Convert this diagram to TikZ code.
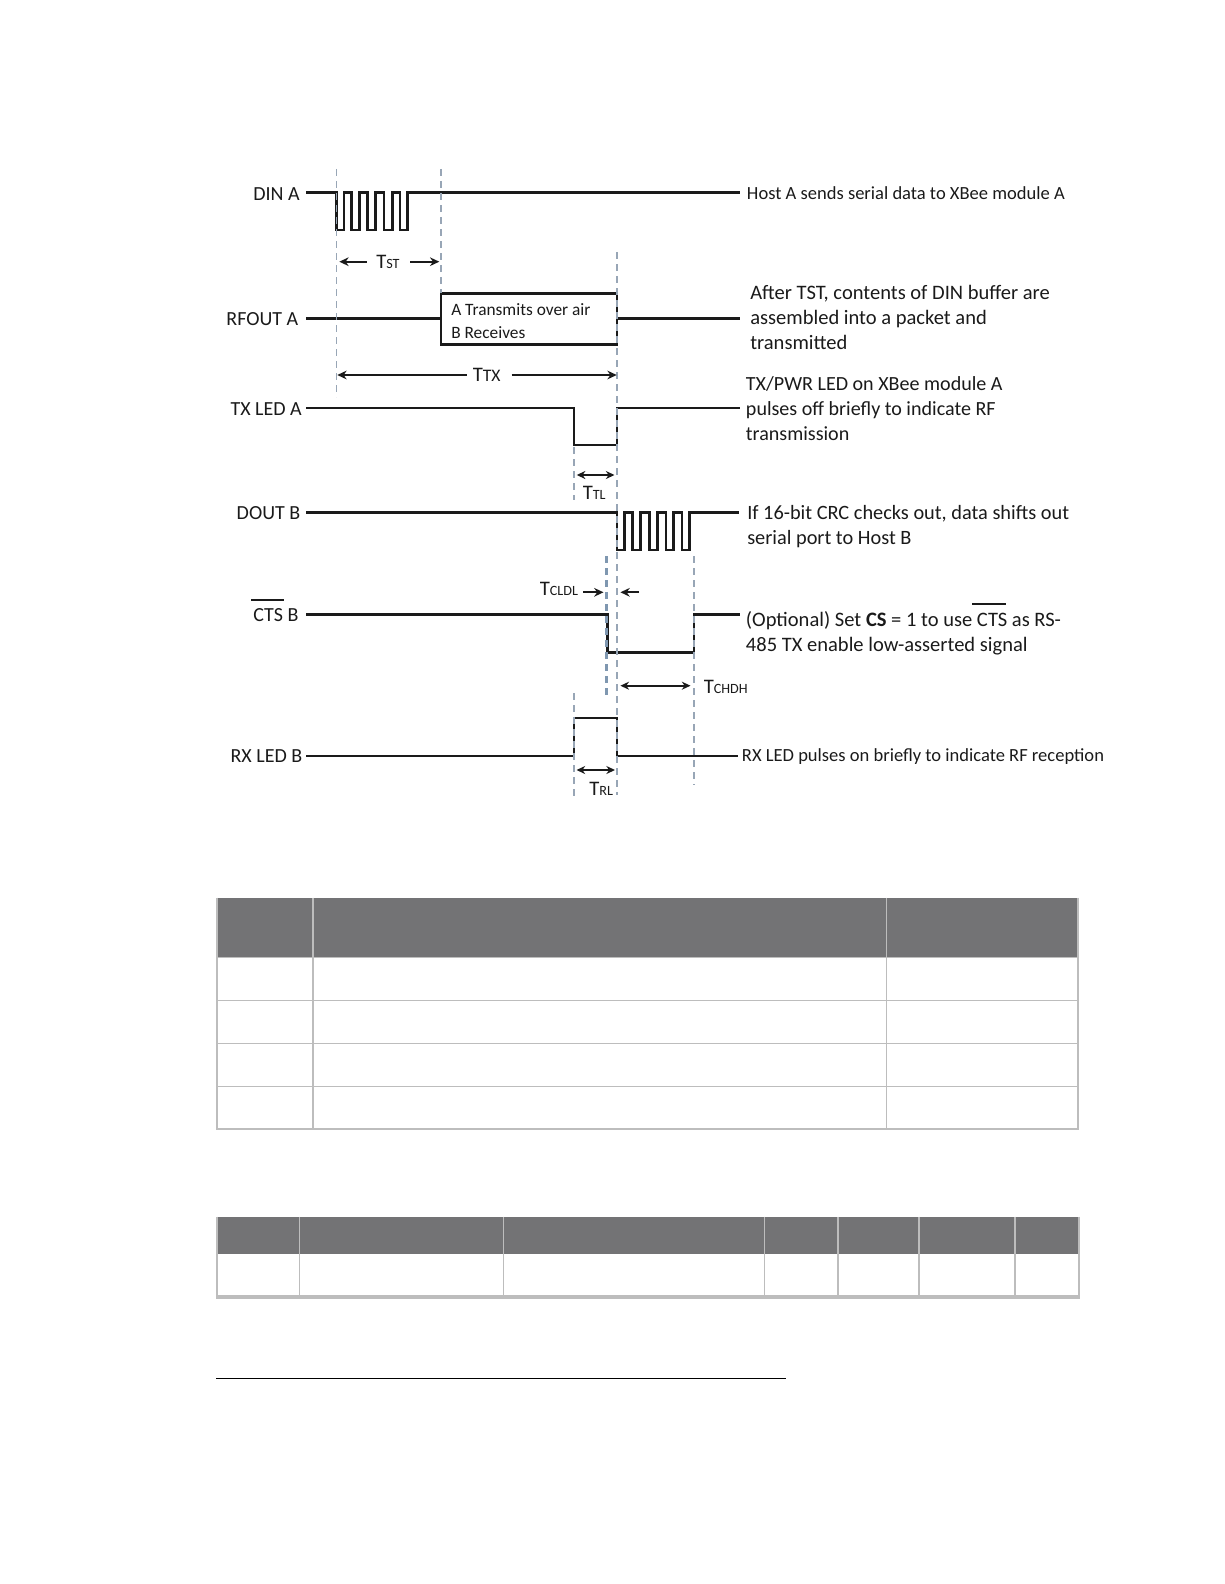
\documentclass[tikz,border=0pt]{standalone}
\usepackage{fontspec}
\setmainfont{Carlito}
\usetikzlibrary{arrows.meta}
\definecolor{hdr}{HTML}{737375}
\definecolor{rule}{HTML}{BDBDBD}
\definecolor{dashc}{HTML}{98A6B6}
\definecolor{dashb}{HTML}{7F97B0}
\definecolor{ink}{HTML}{1A1A1A}
\newcommand{\Tsub}[1]{T{\fontsize{10.6}{11}\selectfont #1}}
\tikzset{
  x=0.75pt,y=-0.75pt,
  sigthick/.style={draw=ink,line width=2.1pt,line join=miter},
  sigmid/.style={draw=ink,line width=1.85pt,line join=miter},
  sigthin/.style={draw=ink,line width=1.45pt,line join=miter},
  guide/.style={draw=dashc,line width=1pt,dash pattern=on 5pt off 4pt},
  guidebold/.style={draw=dashb,line width=2pt,dash pattern=on 5pt off 4pt},
  dimarrow/.style={draw=ink,line width=1.2pt,-{Stealth[length=7pt,width=6.5pt]}},
  dimboth/.style={draw=ink,line width=1.3pt,{Stealth[length=6.5pt,width=6pt]}-{Stealth[length=6.5pt,width=6pt]}},
  siglabel/.style={font=\fontsize{15}{18}\selectfont,text=ink,inner sep=0pt,anchor=east},
  note/.style={text=ink,inner sep=0pt,anchor=west,align=left},
  boxtext/.style={font=\fontsize{13}{16}\selectfont,text=ink,inner sep=0pt,anchor=west,align=left},
  timing/.style={font=\fontsize{15.5}{17}\selectfont,text=ink,inner sep=0pt,anchor=west},
  cellrule/.style={draw=rule,line width=1pt},
  headfill/.style={fill=hdr,draw=none},
}
\begin{document}
\begin{tikzpicture}
\useasboundingbox (0,0) rectangle (1224,1584);

% --- waveforms ---
\draw[sigthick] (306,192.3) -- (336.3,192.3) -- (336.3,230) -- (344,230) -- (344,192.3) -- (351.7,192.3) -- (351.7,230) -- (359.3,230) -- (359.3,192.3) -- (367.7,192.3) -- (367.7,230) -- (375.7,230) -- (375.7,192.3) -- (384,192.3) -- (384,230) -- (392.3,230) -- (392.3,192.3) -- (400,192.3) -- (400,230) -- (407.7,230) -- (407.7,192.3) -- (740,192.3);
\draw[sigmid] (306,318.7) -- (441,318.7);
\draw[sigmid] (617,318.7) -- (740,318.7);
\draw[sigmid] (441,293.3) rectangle (617,344.3);
\draw[sigthin] (306,408) -- (574,408) -- (574,445.3) -- (617,445.3) -- (617,408) -- (740,408);
\draw[sigmid] (306,512.3) -- (617,512.3) -- (617,550) -- (624.6,550) -- (624.6,512.3) -- (632.7,512.3) -- (632.7,550) -- (640.7,550) -- (640.7,512.3) -- (649.5,512.3) -- (649.5,550) -- (657.6,550) -- (657.6,512.3) -- (666,512.3) -- (666,550) -- (673.7,550) -- (673.7,512.3) -- (681.8,512.3) -- (681.8,550) -- (689.5,550) -- (689.5,512.3) -- (738.6,512.3);
\draw[sigmid] (306,614.3) -- (607.4,614.3) -- (607.4,652.3) -- (694,652.3) -- (694,614.3) -- (739.6,614.3);
\draw[sigthin] (306,756) -- (574,756) -- (574,718.3) -- (617,718.3) -- (617,756) -- (738,756);

% --- dashed guides ---
\draw[guide] (336.3,169) -- (336.3,397);
\draw[guide] (441,169) -- (441,293);
\draw[guide] (617,252) -- (617,795);
\draw[guide] (574,447) -- (574,500);
\draw[guide] (574,693) -- (574,797);
\draw[guide] (694,556) -- (694,785);
\draw[guidebold] (606.4,556) -- (606.4,698);

% --- dimension anchors ---
\coordinate (tstA) at (366.7,261.7);
\coordinate (tstB) at (339.3,261.7);
\coordinate (tstC) at (410,261.7);
\coordinate (tstD) at (439.3,261.7);
\coordinate (ttxA) at (466.7,375);
\coordinate (ttxB) at (337.3,375);
\coordinate (ttxC) at (511.7,375);
\coordinate (ttxD) at (616.7,375);
\coordinate (ttlA) at (576.7,475);
\coordinate (ttlB) at (614.5,475);
\coordinate (cldA) at (583,592.3);
\coordinate (cldB) at (603.5,592.3);
\coordinate (cldC) at (639,592.3);
\coordinate (cldD) at (620.4,592.3);
\coordinate (chdA) at (620.4,685.7);
\coordinate (chdB) at (690.5,685.7);
\coordinate (trlA) at (576.5,770);
\coordinate (trlB) at (615,770);

\draw[dimarrow] (tstA) -- (tstB);
\draw[dimarrow] (tstC) -- (tstD);
\draw[dimarrow] (ttxA) -- (ttxB);
\draw[dimarrow] (ttxC) -- (ttxD);
\draw[dimboth] (ttlA) -- (ttlB);
\draw[dimarrow,line width=1.5pt] (cldA) -- (cldB);
\draw[dimarrow,line width=1.5pt] (cldC) -- (cldD);
\draw[dimboth,line width=1.7pt] (chdA) -- (chdB);
\draw[dimboth,line width=1.1pt] (trlA) -- (trlB);

% --- timing labels ---
\node[timing] (tst) at (376,261.5) {\Tsub{ST}};
\node[timing] (ttx) at (472.5,374.5) {T{\fontsize{13.2}{14}\selectfont TX}};
\node[timing] (ttl) at (582.5,493) {\Tsub{TL}};
\node[timing] (tcldl) at (539.5,589) {\Tsub{CLDL}};
\node[timing] (tchdh) at (703.5,686.5) {\Tsub{CHDH}};
\node[timing] (trl) at (589,788.5) {\Tsub{RL}};

% --- signal labels ---
\node[siglabel] (din) at (300,194) {DIN A};
\node[siglabel] (rfout) at (298.5,319) {RFOUT A};
\node[siglabel] (txled) at (302,409.5) {TX LED A};
\node[siglabel] (dout) at (300.5,513) {DOUT B};
\node[siglabel] (cts) at (298.7,615) {CTS B};
\draw[draw=ink,line width=1.6pt] (251.4,600) -- (284.4,600);
\node[siglabel] (rxled) at (302.5,756.5) {RX LED B};

% --- box text ---
\node[boxtext] (boxa) at (451,321) {A Transmits over air\\[0.8pt]B Receives};

% --- notes ---
\node[note,font=\fontsize{13.9}{18.75}\selectfont] (n1) at (746.7,193.5) {Host A sends serial data to XBee module A};
\node[note,font=\fontsize{15.4}{18.75}\selectfont] (n2) at (750,317.5) {After TST, contents of DIN buffer are\\assembled into a packet and\\transmitted};
\node[note,font=\fontsize{15.05}{18.75}\selectfont] (n3) at (745.7,408.5) {TX/PWR LED on XBee module A\\pulses off briefly to indicate RF\\transmission};
\node[note,font=\fontsize{15.25}{18.75}\selectfont] (n4) at (747,527) {If 16-bit CRC checks out, data shifts out\\serial port to Host B};
\node[note,font=\fontsize{15.4}{18.75}\selectfont] (n5) at (745.7,633) {(Optional) Set \textbf{CS} = 1 to use CTS as RS-\\485 TX enable low-asserted signal};
\draw[draw=ink,line width=1.6pt] (972.3,604.3) -- (1006,604.3);
\node[note,font=\fontsize{13.9}{18.75}\selectfont] (n6) at (741.7,757) {RX LED pulses on briefly to indicate RF reception};

% --- table 1 ---
\fill[headfill] (217,897.7) rectangle (1078,957.7);
\draw[cellrule] (217,957.7) rectangle (1078,1129);
\draw[cellrule] (217,1000.3) -- (1078,1000.3);
\draw[cellrule] (217,1043.3) -- (1078,1043.3);
\draw[cellrule] (217,1086.3) -- (1078,1086.3);
\draw[cellrule] (217,897.7) -- (217,1129);
\draw[cellrule] (1078,897.7) -- (1078,1129);
\draw[cellrule,line width=1.3pt] (313,897.7) -- (313,1129);
\draw[cellrule] (886.4,897.7) -- (886.4,1129);

% --- table 2 ---
\fill[headfill] (217,1216.7) rectangle (1079,1253.7);
\draw[cellrule] (217,1216.7) -- (217,1297);
\draw[cellrule] (1079,1216.7) -- (1079,1297);
\draw[cellrule,line width=0.8pt] (299.3,1216.7) -- (299.3,1297);
\draw[cellrule,line width=0.8pt] (503.6,1216.7) -- (503.6,1297);
\draw[cellrule,line width=0.6pt] (764.7,1216.7) -- (764.7,1297);
\draw[cellrule,line width=1.1pt] (838,1216.7) -- (838,1297);
\draw[cellrule,line width=1.1pt] (919,1216.7) -- (919,1297);
\draw[cellrule,line width=1.1pt] (1015,1216.7) -- (1015,1297);
\draw[cellrule,line width=2.6pt] (216,1297) -- (1080,1297);

% --- footnote rule ---
\draw[draw=black,line width=1pt] (216,1378.3) -- (785.7,1378.3);
\end{tikzpicture}
\end{document}
